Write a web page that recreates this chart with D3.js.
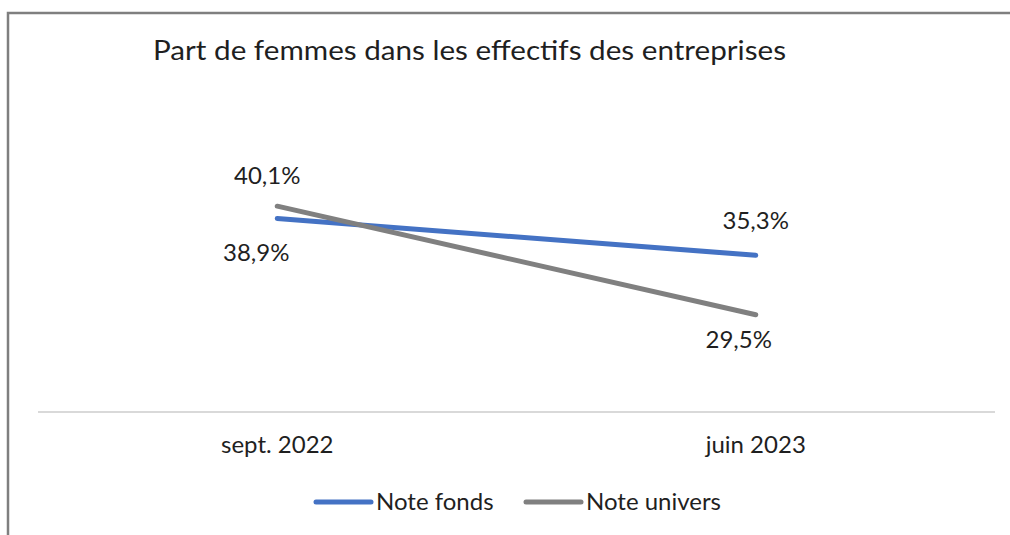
<!DOCTYPE html>
<html>
<head>
<meta charset="utf-8">
<script src="https://cdn.jsdelivr.net/npm/d3@7"></script>
<style>
  body { margin: 0; background: #fff; }
  text { font-family: Lato, "Open Sans", sans-serif; fill: #1f1f1f; }
</style>
</head>
<body>
<div id="chart"></div>
<script>
const categories = ['sept. 2022', 'juin 2023'];
const fonds = [38.9, 35.3];
const univers = [40.1, 29.5];
const seriesNames = ['Note fonds', 'Note univers'];
const colors = ['#4472C4', '#808080'];

// label placement: [dx, dy] relative to the point
const fondsLabelPos = [[-21, 43], [0, -26]];
const universLabelPos = [[-10, -22], [-17, 33]];

const width = 1010, height = 535;
const svg = d3.select('#chart').append('svg')
  .attr('width', width)
  .attr('height', height);

svg.append('rect').attr('width', width).attr('height', height).attr('fill', '#fff');

// chart frame
svg.append('path')
  .attr('d', 'M8,535 L8,13 L1010,13')
  .attr('fill', 'none')
  .attr('stroke', '#7f7f7f')
  .attr('stroke-width', 2.5);

let x = d3.scaleBand().domain(categories).range([38, 995]);
let y = d3.scaleLinear().domain([20, 45]).range([412, 156]);
let cx = d => x(d) + x.bandwidth() / 2;

// title
svg.append('text')
  .attr('x', 153)
  .attr('y', 60)
  .attr('font-size', 26)
  .attr('textLength', 633)
  .attr('lengthAdjust', 'spacingAndGlyphs')
  .text('Part de femmes dans les effectifs des entreprises');

// category axis
svg.append('line')
  .attr('x1', 38).attr('x2', 995)
  .attr('y1', y(20)).attr('y2', y(20))
  .attr('stroke', '#d9d9d9')
  .attr('stroke-width', 2);

svg.selectAll('.cat')
  .data(categories)
  .enter().append('text')
  .attr('class', 'cat')
  .attr('x', d => cx(d))
  .attr('y', 453)
  .attr('text-anchor', 'middle')
  .attr('font-size', 24)
  .text(d => d);

let line = d3.line()
  .x((d, i) => cx(categories[i]))
  .y(d => y(d));

let all = [fonds, univers];
let labelPos = [fondsLabelPos, universLabelPos];

all.forEach((vals, s) => {
  svg.append('path')
    .datum(vals)
    .attr('d', line)
    .attr('fill', 'none')
    .attr('stroke', colors[s])
    .attr('stroke-width', 5)
    .attr('stroke-linecap', 'round');
});

all.forEach((vals, s) => {
  svg.selectAll('.lbl' + s)
    .data(vals)
    .enter().append('text')
    .attr('class', 'lbl' + s)
    .attr('x', (d, i) => cx(categories[i]) + labelPos[s][i][0])
    .attr('y', (d, i) => y(d) + labelPos[s][i][1])
    .attr('text-anchor', 'middle')
    .attr('font-size', 24)
    .text(d => d.toFixed(1).replace('.', ',') + '%');
});

// legend
let legendX = [316, 526];
seriesNames.forEach((name, s) => {
  svg.append('line')
    .attr('x1', legendX[s]).attr('x2', legendX[s] + 55)
    .attr('y1', 502).attr('y2', 502)
    .attr('stroke', colors[s])
    .attr('stroke-width', 5)
    .attr('stroke-linecap', 'round');
  svg.append('text')
    .attr('x', legendX[s] + 60)
    .attr('y', 510)
    .attr('font-size', 24)
    .text(name);
});
</script>
</body>
</html>
